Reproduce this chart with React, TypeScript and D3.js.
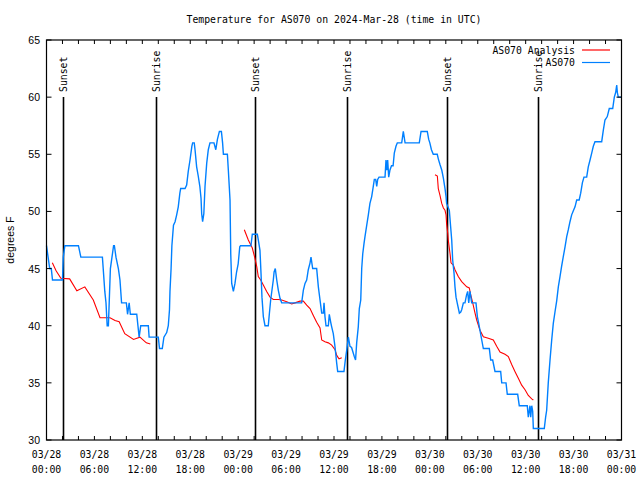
import React from "react";
import * as d3 from "d3";

const title = "Temperature for AS070 on 2024-Mar-28 (time in UTC)";
const yLabel = "degrees F";
const yTicks = [30, 35, 40, 45, 50, 55, 60, 65];
const startUtc = Date.UTC(2024, 2, 28, 0, 0);
const endUtc = Date.UTC(2024, 2, 31, 0, 0);
const seriesNames = ["AS070 Analysis", "AS070"];
const seriesColors = ["#ff0000", "#0080ff"];

const sunEventHours = [2.07, 13.71, 26.12, 37.67, 50.17, 61.6];
const sunEventLabels = ["Sunset", "Sunrise", "Sunset", "Sunrise", "Sunset", "Sunrise"];

// observed AS070 temperature: [hours since 03/28 00:00 UTC, degF]
const observed: [number, number][] = [
  [0, 47], [0.2, 46], [0.4, 45], [0.6, 45], [0.75, 44], [2.0, 44], [2.1, 46], [2.3, 47], [4.0, 47], [4.3, 46],
  [7.0, 46], [7.1, 45], [7.3, 43], [7.45, 42], [7.6, 40], [7.75, 40], [7.85, 42], [8.0, 45], [8.2, 46], [8.4, 47],
  [8.5, 47], [8.7, 46], [9.0, 45], [9.2, 44], [9.4, 42], [10.0, 42], [10.15, 41], [10.35, 42], [10.5, 41], [11.3, 41],
  [11.45, 40], [11.6, 39], [11.8, 40], [12.75, 40], [12.85, 39], [14.0, 39], [14.15, 38], [14.5, 38], [14.7, 39],
  [15.05, 39.4], [15.25, 40], [15.4, 41.4], [15.46, 43], [15.6, 45], [15.7, 47], [15.9, 48.8], [16.1, 49.1],
  [16.3, 49.7], [16.5, 50.4], [16.7, 51.6], [16.8, 52], [17.35, 52], [17.55, 52.3], [17.75, 53.5], [17.97, 54.5],
  [18.2, 55.7], [18.3, 56], [18.5, 56], [18.6, 55.4], [18.8, 53.9], [19.0, 53.1], [19.2, 52.2], [19.35, 51.15],
  [19.43, 49.8], [19.55, 49.1], [19.7, 49.8], [19.85, 52.2], [20.06, 54.2], [20.26, 55.4], [20.47, 56], [20.97, 56],
  [21.2, 55.4], [21.4, 56.3], [21.65, 57], [21.9, 57], [22.05, 56], [22.15, 55], [22.65, 55], [22.77, 53.6],
  [22.98, 51], [23.07, 46.3], [23.19, 43.7], [23.4, 43], [23.6, 43.7], [23.8, 44.7], [24.0, 45.4], [24.2, 46.9],
  [24.3, 47], [25.6, 47], [25.77, 48], [26.4, 48], [26.5, 47.6], [26.73, 46.6], [26.86, 44.6], [26.98, 42.5],
  [27.15, 40.8], [27.36, 40], [27.77, 40], [27.9, 41], [28.07, 42.25], [28.4, 44], [28.5, 44.7], [28.65, 45],
  [28.83, 44], [29.03, 43.1], [29.24, 42.4], [29.45, 42], [31.95, 42], [32.16, 43.1], [32.37, 43.7], [32.58, 44],
  [32.78, 44.9], [33.0, 45.5], [33.12, 46], [33.33, 45], [33.83, 45], [34.04, 43.4], [34.25, 42.25], [34.46, 41.1],
  [34.66, 41.1], [34.75, 42], [34.87, 40.8], [35.0, 40], [35.29, 40], [35.41, 41], [35.59, 40.3], [35.71, 39.9],
  [35.91, 39.3], [36.12, 38.2], [36.34, 36.7], [36.46, 36], [37.25, 36], [37.4, 36.9], [37.6, 37.9], [37.8, 39],
  [38.0, 38.2], [38.2, 38.1], [38.54, 37.3], [38.7, 37], [38.84, 38.5], [39.04, 39.9], [39.17, 41.5], [39.35, 42.25],
  [39.47, 45], [39.6, 46.3], [39.76, 47.2], [39.88, 47.8], [40.1, 48.8], [40.3, 49.7], [40.5, 50.7], [40.72, 51.3],
  [40.92, 52.2], [41.05, 52.8], [41.22, 52.8], [41.35, 52.2], [41.47, 52.8], [41.64, 53], [42.39, 53], [42.51, 54.5],
  [42.6, 53.6], [42.72, 54.5], [42.85, 53], [43.0, 53.6], [43.2, 54], [43.4, 54], [43.55, 55.1], [43.76, 55.7],
  [43.93, 56], [44.48, 56], [44.68, 57], [44.9, 56], [46.68, 56], [46.9, 57], [47.68, 57], [47.86, 56.3], [48.0, 56],
  [48.2, 55.4], [48.43, 55], [48.93, 55], [49.06, 54.6], [49.27, 54.1], [49.5, 53.6], [49.7, 52.9], [49.9, 52],
  [50.03, 51.3], [50.1, 50.7], [50.44, 50.1], [50.6, 48.7], [50.74, 47.5], [50.86, 45.75], [51.03, 44.6],
  [51.15, 43.4], [51.28, 42.5], [51.44, 41.96], [51.7, 41.1], [51.87, 41.2], [51.99, 41.4], [52.2, 42], [52.4, 42],
  [52.6, 42.7], [52.74, 43], [52.87, 42], [53.03, 43], [53.24, 42], [53.78, 42], [53.95, 40.8], [54.12, 40.2],
  [54.28, 39.6], [54.5, 38.75], [54.7, 38], [55.45, 38], [55.62, 37], [55.87, 37], [56.16, 36], [56.87, 36],
  [57.0, 35], [57.54, 35], [57.7, 34], [59.0, 34], [59.2, 33], [60.2, 33], [60.33, 32], [60.54, 33], [60.63, 32],
  [60.76, 33], [60.88, 32.5], [60.96, 31], [62.33, 31], [62.5, 32], [62.63, 32.6], [62.83, 35], [63.05, 37],
  [63.26, 38.75], [63.46, 40.2], [63.67, 41.2], [63.89, 42.2], [64.09, 43.4], [64.3, 44.3], [64.5, 45.2],
  [64.7, 46], [64.93, 46.9], [65.14, 47.8], [65.34, 48.4], [65.55, 49.1], [65.76, 49.7], [65.97, 50.06],
  [66.18, 50.4], [66.39, 51], [66.7, 51], [66.89, 51.6], [67.1, 52.5], [67.3, 53], [67.64, 53], [67.84, 53.9],
  [68.06, 54.5], [68.27, 55.1], [68.47, 55.7], [68.68, 56.1], [69.52, 56.1], [69.72, 57.1], [69.93, 58],
  [70.22, 58.3], [70.47, 59], [70.9, 59], [71.1, 60], [71.27, 60.4], [71.4, 61.06], [71.48, 60.4], [71.6, 60],
  [72, 60],
];

// analysis runs: [hours, degF]
const analysisDay1: [number, number][] = [
  [0.73, 45.5], [1.2, 44.8], [1.8, 44.15], [2.9, 44.1], [3.8, 43.06], [4.8, 43.4], [5.86, 42.25], [6.7, 40.7],
  [7.95, 40.7], [8.58, 40.45], [9.1, 40.35], [9.8, 39.3], [10.9, 38.8], [11.7, 39.0], [12.5, 38.5], [13.0, 38.4],
];
const analysisDay2: [number, number][] = [
  [24.77, 48.4], [25.27, 47.5], [25.77, 46.8], [26.1, 45.9], [26.32, 45.2], [26.52, 44.3], [26.82, 44.0],
  [27.15, 43.56], [27.57, 43.0], [27.99, 42.5], [28.4, 42.3], [29.03, 42.3], [29.45, 42.25], [30.08, 42.1],
  [30.7, 41.9], [31.12, 42.0], [31.74, 42.15], [32.16, 42.15], [32.58, 41.8], [33.0, 41.5], [33.41, 40.9],
  [33.83, 40.3], [34.25, 39.8], [34.46, 38.75], [34.87, 38.6], [35.29, 38.5], [35.71, 38.3], [36.13, 37.9],
  [36.34, 37.4], [36.63, 37.1], [36.97, 37.2],
];
const analysisDay3: [number, number][] = [
  [48.65, 53.2], [48.94, 53.1], [49.06, 52.0], [49.27, 51.4], [49.49, 50.7], [49.7, 50.3], [49.9, 50.1],
  [50.03, 49.7], [50.1, 48.9], [50.24, 48.1], [50.31, 47.5], [50.53, 46.3], [50.65, 45.5], [50.94, 45.3],
  [51.15, 44.9], [51.56, 44.3], [51.99, 43.86], [52.62, 43.4], [52.94, 43.3], [53.12, 42.7], [53.37, 42.0],
  [53.66, 41.1], [53.87, 40.5], [54.28, 39.6], [54.7, 39.04], [55.32, 38.9], [55.95, 38.75], [56.37, 38.2],
  [56.79, 37.7], [57.41, 37.5], [57.83, 37.3], [58.25, 36.6], [58.67, 35.98], [59.08, 35.4], [59.5, 34.8],
  [59.92, 34.4], [60.33, 33.9], [60.76, 33.6], [60.96, 33.5],
];

const W = 640;
const H = 480;
const left = 46.5;
const right = 621.5;
const top = 40;
const bottom = 440;
const mono = "'DejaVu Sans Mono', 'Liberation Mono', monospace";
const sans = "'Liberation Sans', Arial, sans-serif";

const toDate = (h: number) => new Date(startUtc + h * 3600 * 1000);

export default function App() {
  const x = d3.scaleUtc().domain([new Date(startUtc), new Date(endUtc)]).range([left, right]);
  const y = d3.scaleLinear().domain([30, 65]).range([bottom, top]);

  const line = d3
    .line<[number, number]>()
    .x((d) => x(toDate(d[0])))
    .y((d) => y(d[1]));

  const minorTicks = d3.utcHour.every(2)!.range(new Date(startUtc), new Date(endUtc + 1));
  const majorTicks = d3.utcHour.every(6)!.range(new Date(startUtc), new Date(endUtc + 1));
  const fmtDay = d3.utcFormat("%m/%d");
  const fmtTime = d3.utcFormat("%H:%M");

  return (
    <svg width={W} height={H} style={{ position: "absolute", left: 0, top: 0, background: "#fff" }}>
      <rect x={0} y={0} width={W} height={H} fill="#fff" />
      <text x={(left + right) / 2} y={23} textAnchor="middle" fontFamily={mono} fontSize={9.8} fill="#000">
        {title}
      </text>

      {/* sun event lines */}
      {sunEventHours.map((h, i) => {
        const xx = Math.round(x(toDate(h))) + 0.5;
        return (
          <g key={"sun" + i}>
            <line x1={xx} x2={xx} y1={97} y2={bottom} stroke="#000" strokeWidth={1.6} />
            <text
              transform={`translate(${xx + 3.5},${92}) rotate(-90)`}
              fontFamily={mono}
              fontSize={9.8}
              fill="#000"
            >
              {sunEventLabels[i]}
            </text>
          </g>
        );
      })}

      {/* series */}
      {[analysisDay1, analysisDay2, analysisDay3].map((seg, i) => (
        <path key={"an" + i} d={line(seg) || ""} fill="none" stroke={seriesColors[0]} strokeWidth={1.1} />
      ))}
      <path d={line(observed) || ""} fill="none" stroke={seriesColors[1]} strokeWidth={1.4} />

      {/* frame */}
      <rect x={left} y={top} width={right - left} height={bottom - top} fill="none" stroke="#000" strokeWidth={1.2} />

      {/* x ticks */}
      {minorTicks.map((t, i) => {
        const xx = x(t);
        return (
          <g key={"xt" + i}>
            <line x1={xx} x2={xx} y1={bottom} y2={bottom - 4} stroke="#000" strokeWidth={1} />
            <line x1={xx} x2={xx} y1={top} y2={top + 4} stroke="#000" strokeWidth={1} />
          </g>
        );
      })}
      {majorTicks.map((t, i) => {
        const xx = x(t);
        return (
          <g key={"xl" + i}>
            <text x={xx} y={458} textAnchor="middle" fontFamily={mono} fontSize={9.8} fill="#000">
              {fmtDay(t)}
            </text>
            <text x={xx} y={473} textAnchor="middle" fontFamily={mono} fontSize={9.8} fill="#000">
              {fmtTime(t)}
            </text>
          </g>
        );
      })}

      {/* y ticks */}
      {yTicks.map((v) => {
        const yy = y(v);
        return (
          <g key={"yt" + v}>
            <line x1={left} x2={left + 5} y1={yy} y2={yy} stroke="#000" strokeWidth={1} />
            <line x1={right} x2={right - 5} y1={yy} y2={yy} stroke="#000" strokeWidth={1} />
            <text x={40} y={yy + 4} textAnchor="end" fontFamily={sans} fontSize={10.5} fill="#000">
              {v}
            </text>
          </g>
        );
      })}
      <text
        transform={`translate(${14},${(top + bottom) / 2}) rotate(-90)`}
        textAnchor="middle"
        fontFamily={sans}
        fontSize={10.5}
        fill="#000"
      >
        {yLabel}
      </text>

      {/* legend */}
      {seriesNames.map((name, i) => {
        const yy = 50 + i * 12.5;
        return (
          <g key={"lg" + i}>
            <text x={575} y={yy + 3.5} textAnchor="end" fontFamily={mono} fontSize={9.8} fill="#000">
              {name}
            </text>
            <line x1={582} x2={610} y1={yy} y2={yy} stroke={seriesColors[i]} strokeWidth={1.2} />
          </g>
        );
      })}
    </svg>
  );
}
